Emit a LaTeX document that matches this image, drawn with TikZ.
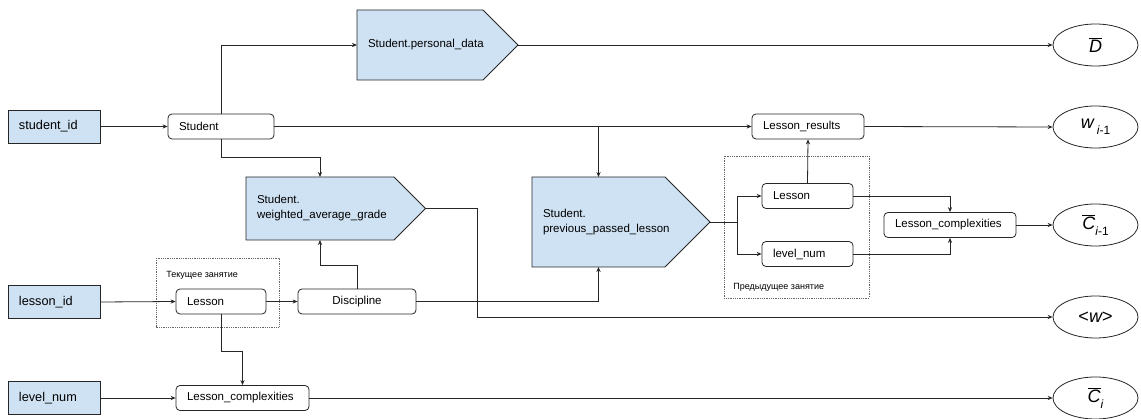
\documentclass[tikz,border=0pt]{standalone}
\usepackage{fontspec}
\setmainfont{Liberation Sans}
\usetikzlibrary{arrows.meta,shapes.geometric,backgrounds}
\definecolor{inblue}{HTML}{CFE2F3}
\definecolor{ink}{HTML}{262626}
\newcommand{\ovl}[1]{$\overline{\mbox{\itshape #1}}$}
\newcommand{\subsc}[1]{\raisebox{-0.6ex}{\fontsize{12}{12}\selectfont #1}}
\begin{document}
\begin{tikzpicture}[x=1pt,y=-1pt,
  >={Stealth[length=5pt,width=4.2pt]},
  every path/.style={line width=0.8pt},
  conn/.style={draw=ink,->},
  inbox/.style={draw=ink,fill=inblue,minimum height=33,inner xsep=11,inner ysep=0,
    text width=70,align=left,font=\fontsize{12.7}{14}\selectfont},
  rbox/.style={draw=ink,rounded corners=4,minimum height=25,inner xsep=11,inner ysep=0,
    align=left,font=\fontsize{11.5}{13}\selectfont},
  pent/.style={draw=none,outer sep=0,inner xsep=11,inner ysep=0,align=left,
    font=\fontsize{11.5}{15}\selectfont},
  ell/.style={draw=ink,ellipse,minimum width=85,minimum height=42,inner sep=0,
    font=\fontsize{18}{18}\selectfont},
  dotbox/.style={draw=black!60,densely dotted,line width=0.7pt},
  small/.style={font=\fontsize{9}{10}\selectfont,anchor=west,inner sep=0}]
\useasboundingbox (0,0) rectangle (1141,419);

% input boxes
\node[inbox] (sid) at (54,126.5) {student\_id};
\node[inbox] (lid) at (54,302) {lesson\_id};
\node[inbox] (lvl) at (54,398) {level\_num};

% rounded boxes
\node[rbox,text width=84] (stu) at (221,126.5) {Student};
\node[rbox,text width=68] (les) at (221,301.5) {Lesson};
\node[rbox,text width=96,align=center] (dis) at (357,301.5) {Discipline};
\node[rbox,text width=111] (lcb) at (242.5,398) {Lesson\_complexities};
\node[rbox,text width=90] (lr) at (808,126.5) {Lesson\_results};
\node[rbox,text width=69] (lp) at (807.5,196) {Lesson};
\node[rbox,text width=69] (lnp) at (807.5,254) {level\_num};
\node[rbox,text width=110] (lcp) at (950,225) {Lesson\_complexities};

% pentagons
\node[pent,minimum width=161,minimum height=70,text width=139] (pd) at (437.5,45) {Student.personal\_data};
\node[pent,minimum width=179.5,minimum height=63,text width=157.5] (wag) at (335.75,208.5) {Student.\\weighted\_average\_grade};
\node[pent,minimum width=178,minimum height=90,text width=156] (ppl) at (621,222) {Student.\\previous\_passed\_lesson};
\begin{scope}[on background layer]
  \filldraw[draw=ink,fill=inblue] (pd.north west) -- ([xshift=-35]pd.north east) -- (pd.east) -- ([xshift=-35]pd.south east) -- (pd.south west) -- cycle;
  \filldraw[draw=ink,fill=inblue] (wag.north west) -- ([xshift=-31.5]wag.north east) -- (wag.east) -- ([xshift=-31.5]wag.south east) -- (wag.south west) -- cycle;
  \filldraw[draw=ink,fill=inblue] (ppl.north west) -- ([xshift=-45]ppl.north east) -- (ppl.east) -- ([xshift=-45]ppl.south east) -- (ppl.south west) -- cycle;
\end{scope}

% outputs
\node[ell] (D) at (1095.5,45) {\ovl{D}};
\node[ell] (w) at (1095.5,127) {{\itshape w}\,\subsc{\itshape i\upshape -1}};
\node[ell] (C1) at (1095.5,225) {\ovl{C}\subsc{\itshape i\upshape -1}};
\node[ell] (aw) at (1095.5,317) {<{\itshape w}>};
\node[ell] (C0) at (1095.5,398) {\ovl{C}\subsc{\itshape i}};

% dotted groups
\draw[dotbox] (156,258) rectangle (279,327);
\node[small] (curlbl) at (166,275) {Текущее занятие};
\draw[dotbox] (724,156) rectangle (869,298);
\node[small] (prevlbl) at (733,287) {Предыдущее занятие};

% connectors
\draw[conn] (sid.east) -- (stu.west);
\draw[conn] (stu.north) |- (pd.west);
\draw[conn] (stu.south) -- ++(0,18) -| ([xshift=-15.75]wag.north);
\draw[conn] (stu.east) -- (lr.west);
\draw[conn] ([xshift=-22.5]ppl.north |- stu.east) -- ([xshift=-22.5]ppl.north);
\draw[conn] (pd.east) -- (D.west);
\draw[conn] (lr.east) -- (w.west);
\draw[conn] (lp.north) -- (lr.south);
\draw[conn] (ppl.east) -- ++(27,0) coordinate (br) |- (lp.west);
\draw[conn] (br) |- (lnp.west);
\draw[conn] (lp.east) -| (lcp.north);
\draw[conn] (lnp.east) -| (lcp.south);
\draw[conn] (lcp.east) -- (C1.west);
\draw[conn] (wag.east) -- ++(52,0) |- (aw.west);
\draw[conn] (lid.east) -- (les.west);
\draw[conn] (les.east) -- (dis.west);
\draw[conn] (dis.north) -- ++(0,-23) -| ([xshift=-15.75]wag.south);
\draw[conn] (dis.east) -| ([xshift=-22.5]ppl.south);
\draw[conn] (les.south) -- ++(0,37) -| (lcb.north);
\draw[conn] (lvl.east) -- (lcb.west);
\draw[conn] (lcb.east) -- (C0.west);
\end{tikzpicture}
\end{document}
